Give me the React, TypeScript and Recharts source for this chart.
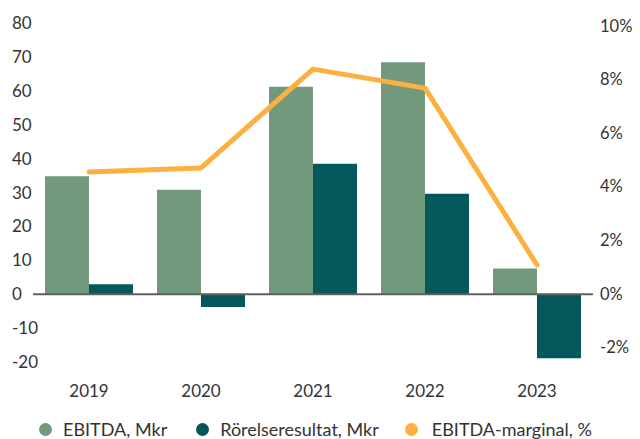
import React from 'react';
import { ComposedChart, Bar, Line, XAxis, YAxis, Legend, ReferenceLine } from 'recharts';

const years = ['2019', '2020', '2021', '2022', '2023'];
const ebitda = [34.8, 30.8, 61.2, 68.4, 7.6];
const rorelse = [2.9, -3.8, 38.5, 29.6, -18.9];
const marginal = [4.54, 4.69, 8.38, 7.67, 1.07];
const leftTicks = [-20, -10, 0, 10, 20, 30, 40, 50, 60, 70, 80];
const rightTicks = [-2, 0, 2, 4, 6, 8, 10];

const seriesNames = ['EBITDA, Mkr', 'Rörelseresultat, Mkr', 'EBITDA-marginal, %'];
const colors = ['#73997d', '#04585b', '#fbb040'];

const data = years.map((y, i) => ({ year: y, ebitda: ebitda[i], rorelse: rorelse[i], marginal: marginal[i] }));

const FONT = 'Lato, "Open Sans", sans-serif';
const TXT = '#333333';

const LeftTick = (props: any) => {
  const { y, payload } = props;
  return (
    <text x={12} y={y} dy={6} textAnchor="start" fill={TXT} fontSize={17} fontFamily={FONT}>
      {payload.value}
    </text>
  );
};

const RightTick = (props: any) => {
  const { y, payload } = props;
  return (
    <text x={600} y={y} dy={6} textAnchor="start" fill={TXT} fontSize={16.5} fontFamily={FONT}>
      {payload.value}%
    </text>
  );
};

const XTick = (props: any) => {
  const { x, y, payload } = props;
  return (
    <text x={x} y={y} dy={27} textAnchor="middle" fill={TXT} fontSize={17} fontFamily={FONT}>
      {payload.value}
    </text>
  );
};

const LegendContent = () => (
  <div style={{ display: 'flex', alignItems: 'center', height: 20, paddingLeft: 39, fontFamily: FONT, fontSize: 18, color: TXT, whiteSpace: 'nowrap' }}>
    {seriesNames.map((n, i) => (
      <div key={n} style={{ display: 'flex', alignItems: 'center', marginRight: i === 0 ? 29 : 26 }}>
        <span style={{ width: 13, height: 13, borderRadius: 7, background: colors[i], display: 'inline-block', marginRight: i === 2 ? 14 : 11 }} />
        <span>{n}</span>
      </div>
    ))}
  </div>
);

export default function App() {
  return (
    <div style={{ margin: '-8px 0 0 -8px', width: 640, height: 439, background: '#fff' }}>
      <ComposedChart width={640} height={439} data={data} margin={{ top: 23, right: 0, bottom: 0, left: 0 }} barGap={0} barCategoryGap="10.7%">
        <XAxis dataKey="year" axisLine={false} tickLine={false} tick={<XTick />} height={57} interval={0} />
        <YAxis yAxisId="left" width={33} domain={[-20, 80]} ticks={leftTicks} axisLine={false} tickLine={false} tick={<LeftTick />} interval={0} />
        <YAxis yAxisId="right" orientation="right" width={47} domain={[-2.55, 10.1]} ticks={rightTicks} axisLine={false} tickLine={false} tick={<RightTick />} interval={0} allowDataOverflow />
        <Bar yAxisId="left" dataKey="ebitda" name={seriesNames[0]} fill={colors[0]} isAnimationActive={false} />
        <Bar yAxisId="left" dataKey="rorelse" name={seriesNames[1]} fill={colors[1]} isAnimationActive={false} />
        <ReferenceLine yAxisId="left" y={0} stroke="#5f5f5f" strokeWidth={2} />
        <Line yAxisId="right" dataKey="marginal" name={seriesNames[2]} stroke={colors[2]} strokeWidth={5} strokeLinecap="round" strokeLinejoin="round" dot={false} activeDot={false} isAnimationActive={false} />
        <Legend verticalAlign="bottom" content={<LegendContent />} />
      </ComposedChart>
    </div>
  );
}
